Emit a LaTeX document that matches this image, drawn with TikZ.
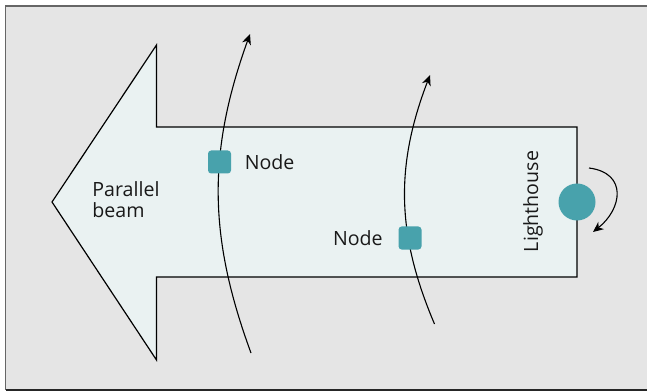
\documentclass[tikz,border=0pt]{standalone}
\usepackage{fontspec}
\setmainfont{Open Sans}
\usepackage{xcolor}
\usetikzlibrary{arrows.meta,positioning}
\definecolor{panelgrey}{HTML}{E5E5E5}
\definecolor{beamfill}{HTML}{EAF2F2}
\definecolor{lhteal}{HTML}{48A2AC}

\begin{document}
\begin{tikzpicture}[x=0.5pt,y=0.5pt,
  lbl/.style={font=\fontsize{9.8}{10.5}\selectfont,text=black!90,inner sep=0pt},
  relay/.style={fill=lhteal,rounded corners=1.6pt,minimum size=11.5pt,inner sep=0pt},
  wave/.style={line width=0.55pt,-{Stealth[length=5.2pt,width=4.6pt,inset=1.6pt]}}]
\useasboundingbox (0,0) rectangle (647,391);
% panel
\fill[panelgrey] (5.5,1) rectangle (647,385);
\draw[black!60,line width=0.8pt] (647,385) -- (5.5,385) -- (5.5,1);
\draw[black!85,line width=0.8pt] (5.5,1) -- (647,1);
% beam arrow
\draw[fill=beamfill,line width=0.6pt,line join=miter] (52,189) -- (156.5,346) -- (156.5,264)
  -- (577,264) -- (577,114) -- (156.5,114) -- (156.5,31) -- cycle;
% wavefronts
\coordinate (w1s) at (251,38);
\coordinate (w1e) at (250,357);
\coordinate (w2s) at (434.5,67);
\coordinate (w2e) at (430,316);
\draw[wave] (w1s) to[bend left=20] (w1e);
\draw[wave] (w2s) to[bend left=22] (w2e);
% lighthouse and relay nodes
\node[circle,fill=lhteal,minimum size=18.5pt,inner sep=0pt] (lighthouse) at (577,189) {};
\node[relay] (node1) at (219.5,229) {};
\node[relay] (node2) at (410,153) {};
\node[lbl,right=6.5pt of node1] (node1lbl) {Node};
\node[lbl,left=7.5pt of node2] (node2lbl) {Node};
\node[lbl,rotate=90] (lhlbl) at (533,189.5) {Lighthouse};
\node[lbl,align=left,anchor=west] (beamlbl) at (92,191) {Parallel\\beam};
% rotation
\coordinate (rots) at (589,223);
\coordinate (rote) at (593,159);
\draw[wave] (rots) .. controls (628,218) and (622,182) .. (rote);
\end{tikzpicture}
\end{document}
